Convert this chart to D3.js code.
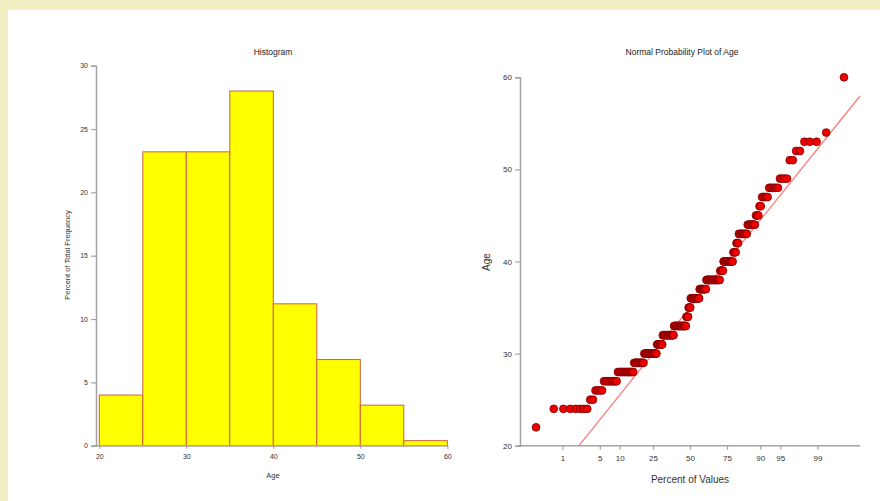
<!DOCTYPE html>
<html><head><meta charset="utf-8">
<script src="https://cdn.jsdelivr.net/npm/d3@7"></script>
<style>
html,body{margin:0;padding:0;background:#fff;}
svg{display:block;font-family:"Liberation Sans",Arial,sans-serif;}
</style></head>
<body>
<svg id="chart" width="880" height="501"></svg>
<script>
// ---- Histogram data ----
const binEdges = [20, 25, 30, 35, 40, 45, 50, 55, 60];
const binPercent = [4.0, 23.2, 23.2, 28.0, 11.2, 6.8, 3.2, 0.4];
const histYTicks = [0, 5, 10, 15, 20, 25, 30];
const histXTicks = [20, 30, 40, 50, 60];

// ---- Normal probability plot data (age value and number of people) ----
const ageValues = [22, 24, 25, 26, 27, 28, 29, 30, 31, 32, 33, 34, 35, 36, 37, 38, 39, 40,
                   41, 42, 43, 44, 45, 46, 47, 48, 49, 51, 52, 53, 54, 60];
const ageCounts = [1, 7, 2, 4, 9, 15, 12, 18, 9, 19, 22, 4, 4, 16, 12, 23, 5, 14,
                   4, 3, 10, 8, 3, 2, 5, 6, 4, 2, 2, 3, 1, 1];
const probTicks = [1, 5, 10, 25, 50, 75, 90, 95, 99];
const ageTicks = [20, 30, 40, 50, 60];
const refLine = { intercept: 35, slope: 7.41 };

// inverse standard normal CDF (Acklam)
function probit(p) {
  const a = [-3.969683028665376e+01, 2.209460984245205e+02, -2.759285104469687e+02, 1.383577518672690e+02, -3.066479806614716e+01, 2.506628277459239e+00];
  const b = [-5.447609879822406e+01, 1.615858368580409e+02, -1.556989798598866e+02, 6.680131188771972e+01, -1.328068155288572e+01];
  const c = [-7.784894002430293e-03, -3.223964580411365e-01, -2.400758277161838e+00, -2.549732539343734e+00, 4.374664141464968e+00, 2.938163982698783e+00];
  const d = [7.784695709041462e-03, 3.224671290700398e-01, 2.445134137142996e+00, 3.754408661907416e+00];
  const pl = 0.02425, ph = 1 - pl;
  let q, r;
  if (p < pl) { q = Math.sqrt(-2 * Math.log(p)); return (((((c[0]*q+c[1])*q+c[2])*q+c[3])*q+c[4])*q+c[5]) / ((((d[0]*q+d[1])*q+d[2])*q+d[3])*q+1); }
  if (p > ph) { q = Math.sqrt(-2 * Math.log(1 - p)); return -(((((c[0]*q+c[1])*q+c[2])*q+c[3])*q+c[4])*q+c[5]) / ((((d[0]*q+d[1])*q+d[2])*q+d[3])*q+1); }
  q = p - 0.5; r = q * q;
  return (((((a[0]*r+a[1])*r+a[2])*r+a[3])*r+a[4])*r+a[5])*q / (((((b[0]*r+b[1])*r+b[2])*r+b[3])*r+b[4])*r+1);
}

const svg = d3.select("#chart");
const axisCol = "#a3a3a3", textCol = "#333";

// background frame
svg.append("rect").attr("x", 0).attr("y", 0).attr("width", 880).attr("height", 501).attr("fill", "#f1efc2");
svg.append("rect").attr("x", 8).attr("y", 10).attr("width", 872).attr("height", 491).attr("fill", "#ffffff");

// ================= HISTOGRAM =================
const hx = d3.scaleLinear().domain([20, 60]).range([99.3, 447.3]);
const hy = d3.scaleLinear().domain([0, 30]).range([445.7, 65.7]);
const hg = svg.append("g");

const bins = binPercent.map((v, i) => ({ x0: binEdges[i], x1: binEdges[i + 1], v }));
hg.selectAll("rect.bar").data(bins).join("rect")
  .attr("class", "bar")
  .attr("x", d => hx(d.x0)).attr("y", d => hy(d.v))
  .attr("width", d => hx(d.x1) - hx(d.x0)).attr("height", d => hy(0) - hy(d.v))
  .attr("fill", "#ffff00").attr("stroke", "#cc6040").attr("stroke-width", 1);

const hyAxis = hg.append("g").attr("transform", "translate(96,0)")
  .call(d3.axisLeft(hy).tickValues(histYTicks).tickSize(5).tickPadding(3).tickFormat(d3.format("d")));
const hxAxis = hg.append("g").attr("transform", `translate(0,${hy(0)})`)
  .call(d3.axisBottom(hx).tickValues(histXTicks).tickSize(3).tickPadding(5).tickFormat(d3.format("d")));
[hyAxis, hxAxis].forEach(a => {
  a.select(".domain").attr("stroke", axisCol).attr("stroke-width", 1.5);
  a.selectAll(".tick line").attr("stroke", axisCol).attr("stroke-width", 1.2);
  a.selectAll(".tick text").attr("fill", textCol).style("font-size", "7px");
});
hxAxis.select(".domain").attr("d", `M93,0H448`);

hg.append("text").attr("x", 273).attr("y", 55).attr("text-anchor", "middle")
  .attr("fill", "#222").style("font-size", "8.5px").text("Histogram");
hg.append("text").attr("x", 273).attr("y", 478).attr("text-anchor", "middle")
  .attr("fill", textCol).style("font-size", "7.5px").text("Age");
hg.append("text").attr("transform", "translate(70,255) rotate(-90)").attr("text-anchor", "middle")
  .attr("fill", textCol).style("font-size", "7.5px").text("Percent of Total Frequency");

// ================= NORMAL PROBABILITY PLOT =================
const px = d3.scaleLinear().domain([-3.1, 3.1]).range([520, 860]);
const py = d3.scaleLinear().domain([20, 60]).range([445.7, 77.3]);
const pg = svg.append("g");

const pyAxis = pg.append("g").attr("transform", "translate(520,0)")
  .call(d3.axisLeft(py).tickValues(ageTicks).tickSize(5).tickPadding(3).tickFormat(d3.format("d")));
const pxAxis = pg.append("g").attr("transform", `translate(0,${py(20)})`)
  .call(d3.axisBottom(px).tickValues(probTicks.map(p => probit(p / 100))).tickSize(4).tickPadding(6)
    .tickFormat((d, i) => probTicks[i]));
[pyAxis, pxAxis].forEach(a => {
  a.select(".domain").attr("stroke", axisCol).attr("stroke-width", 1.5);
  a.selectAll(".tick line").attr("stroke", axisCol).attr("stroke-width", 1.2);
  a.selectAll(".tick text").attr("fill", textCol).style("font-size", "8px");
});
pxAxis.select(".domain").attr("d", `M518,0H860`);

// reference line
const zStart = (20 - refLine.intercept) / refLine.slope;
const zEnd = 3.1;
pg.append("line")
  .attr("x1", px(zStart)).attr("y1", py(20))
  .attr("x2", px(zEnd)).attr("y2", py(refLine.intercept + refLine.slope * zEnd))
  .attr("stroke", "#ff7b7b").attr("stroke-width", 1.3);

// points
const ages = [];
ageValues.forEach((a, i) => { for (let k = 0; k < ageCounts[i]; k++) ages.push(a); });
const n = ages.length;
const pts = ages.map((a, i) => ({ age: a, z: probit((i + 1 - 0.375) / (n + 0.25)) }));
pg.selectAll("circle.pt").data(pts).join("circle")
  .attr("class", "pt")
  .attr("cx", d => px(d.z)).attr("cy", d => py(d.age)).attr("r", 3.9)
  .attr("fill", "#ee0000").attr("stroke", "#7d0000").attr("stroke-width", 0.8);

pg.append("text").attr("x", 682).attr("y", 55).attr("text-anchor", "middle")
  .attr("fill", "#222").style("font-size", "8.5px").text("Normal Probability Plot of Age");
pg.append("text").attr("x", 690).attr("y", 483).attr("text-anchor", "middle")
  .attr("fill", textCol).style("font-size", "10px").text("Percent of Values");
pg.append("text").attr("transform", "translate(490,262) rotate(-90)").attr("text-anchor", "middle")
  .attr("fill", textCol).style("font-size", "10px").text("Age");
</script>
</body></html>
